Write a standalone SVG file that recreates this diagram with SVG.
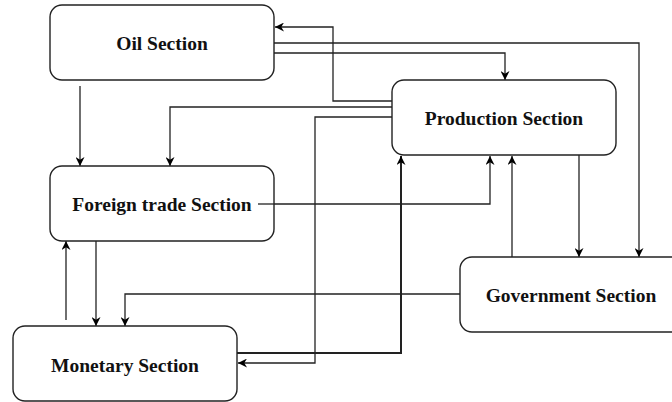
<svg xmlns="http://www.w3.org/2000/svg" width="672" height="402" viewBox="0 0 672 402">
<defs>
<marker id="arr" viewBox="0 0 10 10" refX="10" refY="5" markerWidth="10" markerHeight="9" markerUnits="userSpaceOnUse" orient="auto">
<path d="M0,0 L10,5 L0,10 L3,5 Z" fill="#000"/>
</marker>
<style>
.box{fill:#fff;stroke:#222;stroke-width:1.4}
.lbl{font-family:"Liberation Serif","Times New Roman",serif;font-weight:bold;font-size:19.5px;text-anchor:middle;fill:#111}
.c{fill:none;stroke:#222;stroke-width:1.3;marker-end:url(#arr)}
.n{fill:none;stroke:#222;stroke-width:1.3}
</style>
</defs>
<rect width="672" height="402" fill="#fff"/>
<g id="connectors">
<path class="c" d="M80,86 V166"/>
<path class="c" d="M392,101 H333 V27 H275"/>
<path class="c" d="M274,53 H505 V80"/>
<path class="c" d="M274,43 H639 V257"/>
<path class="c" d="M392,107 H170 V166"/>
<path class="c" d="M392,117 H315 V363 H238"/>
<path class="c" d="M237,353 H401 V156" style="stroke-width:2"/>
<path class="c" d="M258,204 H490 V156"/>
<path class="c" d="M512,257 V156"/>
<path class="c" d="M579,155 V257"/>
<path class="c" d="M460,294 H125 V326"/>
<path class="c" d="M96,241 V326"/>
<path class="c" d="M66,320 V241"/>
</g>
<g id="oil">
<rect class="box" x="50" y="5" width="224" height="75" rx="12"/>
<text class="lbl" x="162" y="50">Oil Section</text>
</g>
<g id="foreign">
<rect class="box" x="50" y="166" width="224" height="75" rx="12"/>
<text class="lbl" x="162" y="211">Foreign trade Section</text>
</g>
<g id="monetary">
<rect class="box" x="13" y="326" width="224" height="75" rx="12"/>
<text class="lbl" x="125" y="372">Monetary Section</text>
</g>
<g id="production">
<rect class="box" x="392" y="80" width="224" height="75" rx="12"/>
<text class="lbl" x="504" y="125">Production Section</text>
</g>
<g id="government">
<rect class="box" x="460" y="257" width="224" height="75" rx="12"/>
<text class="lbl" x="571" y="302">Government Section</text>
</g>
<path class="n" d="M258,204 H274" style="marker-end:none"/>
</svg>
